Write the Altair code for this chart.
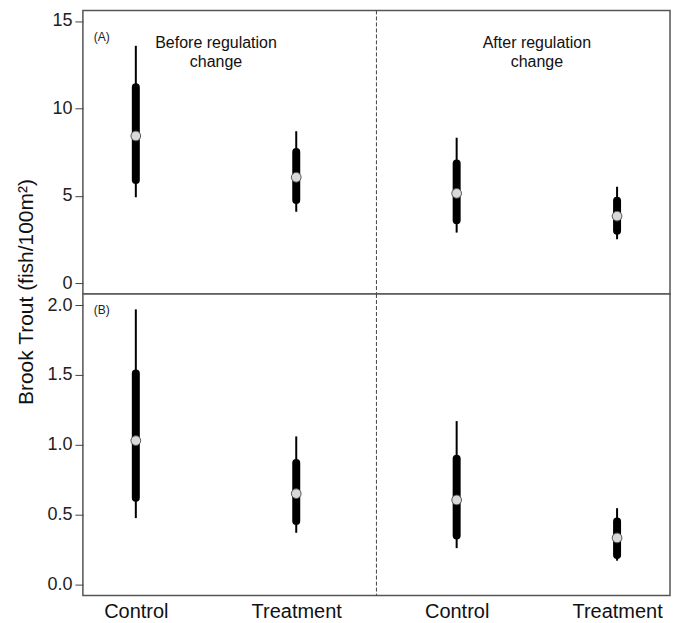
import altair as alt
import pandas as pd

# ---- data ----
positions = [1, 2, 3, 4]
group_labels = ["Control", "Treatment", "Control", "Treatment"]

# Panel A (fish/100m2)
a_mid = [8.43, 6.07, 5.15, 3.85]
a_thin_lo = [4.93, 4.10, 2.91, 2.53]
a_thin_hi = [13.58, 8.70, 8.33, 5.53]
a_thick_lo = [5.92, 4.77, 3.62, 3.01]
a_thick_hi = [11.21, 7.51, 6.86, 4.73]

# Panel B
b_mid = [1.03, 0.65, 0.605, 0.333]
b_thin_lo = [0.475, 0.37, 0.26, 0.17]
b_thin_hi = [1.97, 1.06, 1.17, 0.546]
b_thick_lo = [0.62, 0.455, 0.35, 0.21]
b_thick_hi = [1.51, 0.87, 0.90, 0.45]

a_ticks = [0, 5, 10, 15]
b_ticks = [0.0, 0.5, 1.0, 1.5, 2.0]
a_domain = [-0.6, 15.6]
b_domain = [-0.08, 2.08]

period_pos = [1.5, 3.5]
period_text = ["Before regulation\nchange", "After regulation\nchange"]
divider = [2.5]

FONT = "Liberation Sans"
W = 588
FRAME = "#555"

label_expr = "[" + ",".join("'%s'" % s for s in group_labels) + "][datum.value - 1]"
xscale = alt.Scale(domain=[0.67, 4.33], nice=False, zero=False)
view = alt.ViewBackground(stroke=FRAME, strokeWidth=1.5, fill="white")


def make_panel(mid, tlo, thi, klo, khi, domain, ticks, fmt, height, letter, letter_y, bottom):
    df = pd.DataFrame({"pos": positions, "mid": mid, "tlo": tlo, "thi": thi,
                       "klo": klo, "khi": khi})
    yscale = alt.Scale(domain=domain, nice=False, zero=False)
    yaxis = alt.Axis(values=ticks, format=fmt, title=None, domain=False, grid=False,
                     tickSize=8, tickColor="#444", tickWidth=1, labelFontSize=18,
                     labelColor="#222", labelPadding=3, labelFont=FONT)
    if bottom:
        xaxis = alt.Axis(values=positions, labelExpr=label_expr, title=None, domain=False,
                         ticks=False, grid=False, labelFontSize=20, labelPadding=6,
                         labelColor="#111", labelFont=FONT)
    else:
        xaxis = None
    X = alt.X("pos:Q", scale=xscale, axis=xaxis)
    base = alt.Chart(df)
    thin = base.mark_rule(color="black", strokeWidth=2).encode(
        x=X, y=alt.Y("tlo:Q", scale=yscale, axis=yaxis), y2="thi:Q")
    thick = base.mark_rule(color="black", strokeWidth=8, strokeCap="round").encode(
        x=X, y=alt.Y("klo:Q", scale=yscale, axis=yaxis), y2="khi:Q")
    pts = base.mark_point(shape="circle", filled=False, fill="#d9d9d9", fillOpacity=1,
                          stroke="#555", strokeWidth=1, opacity=1, size=95).encode(
        x=X, y=alt.Y("mid:Q", scale=yscale, axis=yaxis))
    dash = alt.Chart(pd.DataFrame({"x": divider})).mark_rule(
        color="#444", strokeWidth=1, strokeDash=[4, 2]).encode(
        x=alt.X("x:Q", scale=xscale, axis=xaxis))
    let = alt.Chart(pd.DataFrame({"t": [letter]})).mark_text(
        align="left", baseline="middle", fontSize=12, font=FONT, color="#222").encode(
        x=alt.value(11), y=alt.value(letter_y), text="t:N")
    layers = [dash, thin, thick, pts, let]
    return layers


top_layers = make_panel(a_mid, a_thin_lo, a_thin_hi, a_thick_lo, a_thick_hi, a_domain,
                        a_ticks, "d", 284, "(A)", 27, False)
periods = alt.Chart(pd.DataFrame({"x": period_pos, "t": period_text})).mark_text(
    align="center", baseline="top", fontSize=16, font=FONT, color="#111",
    lineBreak="\n", lineHeight=19).encode(
    x=alt.X("x:Q", scale=xscale, axis=None), y=alt.value(25), text="t:N")
ytitle = alt.Chart(pd.DataFrame({"t": ["Brook Trout (fish/100m²)"]})).mark_text(
    align="center", baseline="middle", angle=270, fontSize=21, font=FONT,
    color="#111").encode(x=alt.value(-56), y=alt.value(282), text="t:N")
top = alt.layer(*top_layers, periods, ytitle).properties(width=W, height=284, view=view)

bottom_layers = make_panel(b_mid, b_thin_lo, b_thin_hi, b_thick_lo, b_thick_hi, b_domain,
                           b_ticks, ".1f", 302, "(B)", 16, True)
bottom = alt.layer(*bottom_layers).properties(width=W, height=302, view=view)

chart = alt.vconcat(top, bottom, spacing=0, bounds="flush").properties(
    padding={"left": 7, "top": 0, "right": 5, "bottom": 0}
).configure_view(stroke=FRAME, strokeWidth=1.5).configure(background="white")

chart.save("out.html", embed_options={"renderer": "svg", "actions": False})
